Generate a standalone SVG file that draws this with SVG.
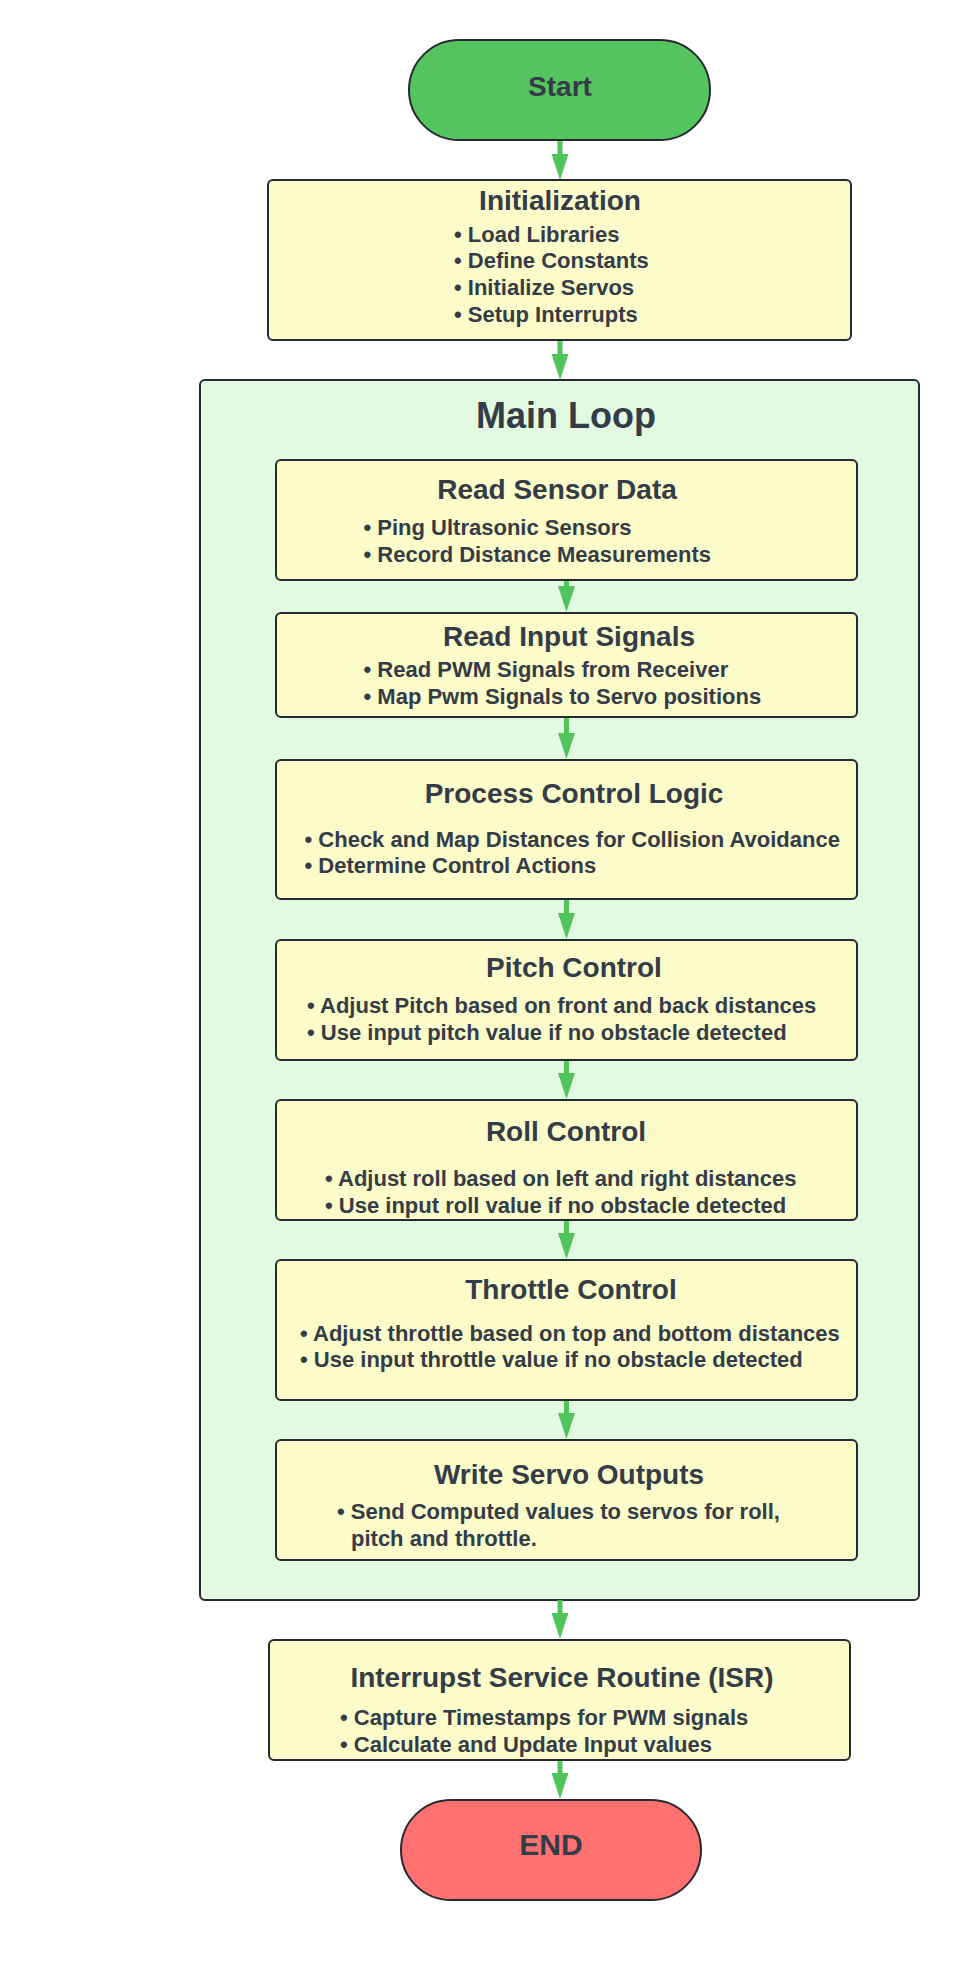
<svg xmlns="http://www.w3.org/2000/svg" width="960" height="1980" viewBox="0 0 960 1980">
<style>
text{font-family:"Liberation Sans",Arial,sans-serif;font-weight:bold;fill:#343c47}
.t{font-size:28px;text-anchor:middle}
.b{font-size:22px}
.box{fill:#fcfbca;stroke:#262a30;stroke-width:2}
.conn{stroke:#52c45c;stroke-width:5;fill:none}
</style>
<defs>
<marker id="ah" viewBox="0 0 26 17" refX="16" refY="8.5" markerUnits="userSpaceOnUse" markerWidth="26" markerHeight="17" orient="auto">
<path d="M0,0 L26,8.5 L0,17 Z" fill="#52c45c"/>
</marker>
</defs>
<rect width="960" height="1980" fill="#ffffff"/>

<g id="main-loop">
<rect x="200" y="380" width="719" height="1220" rx="5" fill="#e2f9e2" stroke="#262a30" stroke-width="2"/>
<text x="566" y="428" class="t" style="font-size:36px">Main Loop</text>
</g>

<g id="connectors">
<path class="conn" d="M560,140 V170" marker-end="url(#ah)"/>
<path class="conn" d="M560,340 V370" marker-end="url(#ah)"/>
<path class="conn" d="M566.5,580 V602" marker-end="url(#ah)"/>
<path class="conn" d="M566.5,717 V749" marker-end="url(#ah)"/>
<path class="conn" d="M566.5,899 V929" marker-end="url(#ah)"/>
<path class="conn" d="M566.5,1060 V1089" marker-end="url(#ah)"/>
<path class="conn" d="M566.5,1220 V1249" marker-end="url(#ah)"/>
<path class="conn" d="M566.5,1400 V1429" marker-end="url(#ah)"/>
<path class="conn" d="M560,1600 V1629" marker-end="url(#ah)"/>
<path class="conn" d="M560,1760 V1789" marker-end="url(#ah)"/>
</g>

<g id="start">
<rect x="409" y="40" width="301" height="100" rx="50" fill="#55c45f" stroke="#262a30" stroke-width="2"/>
<text x="560" y="96" class="t">Start</text>
</g>

<g id="initialization">
<rect class="box" x="268" y="180" width="583" height="160" rx="5"/>
<text x="560" y="210" class="t">Initialization</text>
<text class="b" x="454" y="242">• Load Libraries</text>
<text class="b" x="454" y="268">• Define Constants</text>
<text class="b" x="454" y="295">• Initialize Servos</text>
<text class="b" x="454" y="322">• Setup Interrupts</text>
</g>

<g id="read-sensor-data">
<rect class="box" x="276" y="460" width="581" height="120" rx="5"/>
<text x="557" y="499" class="t">Read Sensor Data</text>
<text class="b" x="363.5" y="535">• Ping Ultrasonic Sensors</text>
<text class="b" x="363.5" y="562">• Record Distance Measurements</text>
</g>

<g id="read-input-signals">
<rect class="box" x="276" y="613" width="581" height="104" rx="5"/>
<text x="569" y="646" class="t">Read Input Signals</text>
<text class="b" x="363.5" y="677">• Read PWM Signals from Receiver</text>
<text class="b" x="363.5" y="704">• Map Pwm Signals to Servo positions</text>
</g>

<g id="process-control-logic">
<rect class="box" x="276" y="760" width="581" height="139" rx="5"/>
<text x="574" y="803" class="t">Process Control Logic</text>
<text class="b" x="304.5" y="847">• Check and Map Distances for Collision Avoidance</text>
<text class="b" x="304.5" y="873">• Determine Control Actions</text>
</g>

<g id="pitch-control">
<rect class="box" x="276" y="940" width="581" height="120" rx="5"/>
<text x="574" y="977" class="t">Pitch Control</text>
<text class="b" x="307" y="1013">• Adjust Pitch based on front and back distances</text>
<text class="b" x="307" y="1040">• Use input pitch value if no obstacle detected</text>
</g>

<g id="roll-control">
<rect class="box" x="276" y="1100" width="581" height="120" rx="5"/>
<text x="566" y="1141" class="t">Roll Control</text>
<text class="b" x="325" y="1186">• Adjust roll based on left and right distances</text>
<text class="b" x="325" y="1213">• Use input roll value if no obstacle detected</text>
</g>

<g id="throttle-control">
<rect class="box" x="276" y="1260" width="581" height="140" rx="5"/>
<text x="571" y="1299" class="t">Throttle Control</text>
<text class="b" x="300" y="1341">• Adjust throttle based on top and bottom distances</text>
<text class="b" x="300" y="1367">• Use input throttle value if no obstacle detected</text>
</g>

<g id="write-servo-outputs">
<rect class="box" x="276" y="1440" width="581" height="120" rx="5"/>
<text x="569" y="1484" class="t">Write Servo Outputs</text>
<text class="b" x="337" y="1519">• Send Computed values to servos for roll,</text>
<text class="b" x="351" y="1546">pitch and throttle.</text>
</g>

<g id="isr">
<rect class="box" x="269" y="1640" width="581" height="120" rx="5"/>
<text x="562" y="1687" class="t">Interrupst Service Routine (ISR)</text>
<text class="b" x="340" y="1725">• Capture Timestamps for PWM signals</text>
<text class="b" x="340" y="1752">• Calculate and Update Input values</text>
</g>

<g id="end">
<rect x="401" y="1800" width="300" height="100" rx="50" fill="#ff7070" stroke="#262a30" stroke-width="2"/>
<text x="551" y="1855" class="t" style="font-size:30px">END</text>
</g>
</svg>
